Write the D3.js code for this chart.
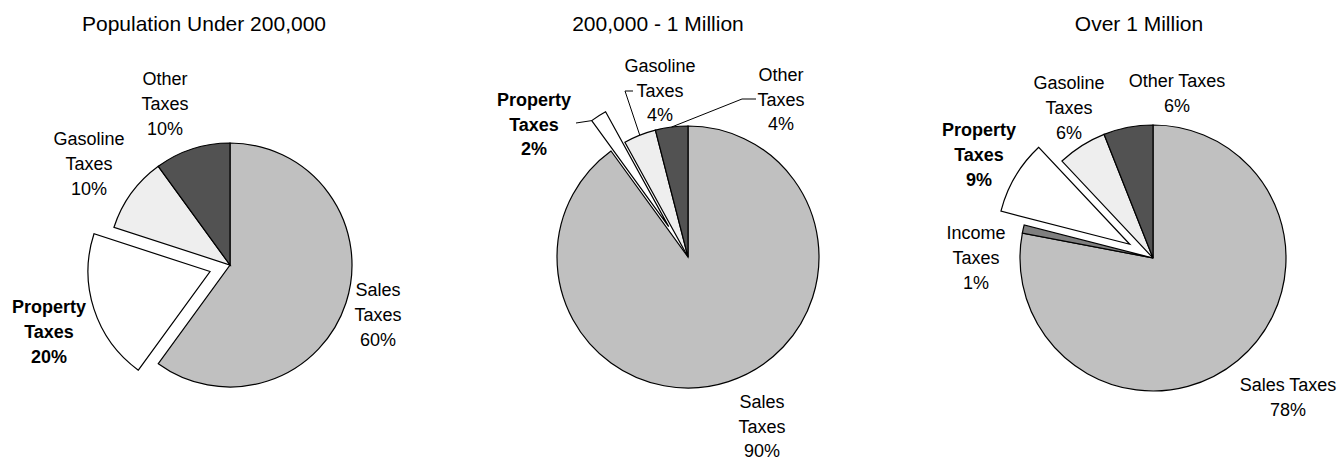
<!DOCTYPE html>
<html><head><meta charset="utf-8">
<script src="https://cdn.jsdelivr.net/npm/d3@7"></script>
<style>
body{margin:0;background:#fff}
svg{display:block}
text{font-family:"Liberation Sans",Arial,sans-serif;fill:#000}
</style>
</head><body><svg id="c" width="1338" height="460"></svg>
<script>
// ---------------- data ----------------
const titles = ["Population Under 200,000", "200,000 - 1 Million", "Over 1 Million"];

const categories1 = ["Sales Taxes", "Property Taxes", "Gasoline Taxes", "Other Taxes"];
const values1 = [60, 20, 10, 10];
const labelLines1 = [["Sales", "Taxes"], ["Property", "Taxes"], ["Gasoline", "Taxes"], ["Other", "Taxes"]];

const categories2 = ["Sales Taxes", "Property Taxes", "Gasoline Taxes", "Other Taxes"];
const values2 = [90, 2, 4, 4];
const labelLines2 = [["Sales", "Taxes"], ["Property", "Taxes"], ["Gasoline", "Taxes"], ["Other", "Taxes"]];

const categories3 = ["Sales Taxes", "Income Taxes", "Property Taxes", "Gasoline Taxes", "Other Taxes"];
const values3 = [78, 1, 9, 6, 6];
const labelLines3 = [["Sales Taxes"], ["Income", "Taxes"], ["Property", "Taxes"], ["Gasoline", "Taxes"], ["Other Taxes"]];

const highlighted = "Property Taxes";

// ---------------- styles / layout ----------------
const colors = {
  "Sales Taxes": "#c0c0c0",
  "Property Taxes": "#ffffff",
  "Gasoline Taxes": "#eeeeee",
  "Other Taxes": "#525252",
  "Income Taxes": "#7f7f7f"
};

const panels = [
  { cx: 230, cy: 265, r: 122, explode: 21, titleX: 204,
    labelPos: { "Sales Taxes": [148, 25], "Property Taxes": [-181, 42], "Gasoline Taxes": [-141, -126], "Other Taxes": [-65, -186] },
    lineH: 25, leaders: [] },
  { cx: 688, cy: 257, r: 131, explode: 36, titleX: 658,
    labelPos: { "Sales Taxes": [74, 145], "Property Taxes": [-154, -157], "Gasoline Taxes": [-28, -191], "Other Taxes": [93, -182] },
    lineH: 24.5,
    leaders: [
      { cat: "Gasoline Taxes", pts: [[-55, -166], [-63, -166]], to: "mid" },
      { cat: "Other Taxes", pts: [[68, -158], [54, -158]], to: "mid" },
      { cat: "Property Taxes", pts: [[-112, -134]], to: "start" }
    ] },
  { cx: 1153, cy: 258, r: 133, explode: 27, titleX: 1139,
    labelPos: { "Sales Taxes": [135, 127], "Income Taxes": [-177, -25], "Property Taxes": [-174, -128], "Gasoline Taxes": [-84, -175], "Other Taxes": [24, -177] },
    lineH: 24.7, leaders: [] }
];

const datasets = [
  { cats: categories1, vals: values1, lines: labelLines1 },
  { cats: categories2, vals: values2, lines: labelLines2 },
  { cats: categories3, vals: values3, lines: labelLines3 }
];

const svg = d3.select("#c");
const pct = d3.format(".0%");

datasets.forEach((ds, i) => {
  const P = panels[i];
  const total = d3.sum(ds.vals);
  const rows = ds.cats.map((c, k) => ({ cat: c, value: ds.vals[k], lines: ds.lines[k] }));
  const pie = d3.pie().sort(null).value(d => d.value).startAngle(0).endAngle(2 * Math.PI);
  const arcs = pie(rows);
  const arc = d3.arc().innerRadius(0).outerRadius(P.r);

  // title
  svg.append("text")
    .attr("x", P.titleX).attr("y", 31)
    .attr("text-anchor", "middle")
    .style("font-size", "21px")
    .text(titles[i]);

  const g = svg.append("g").attr("transform", `translate(${P.cx},${P.cy})`);

  const offsetOf = a => {
    if (a.data.cat !== highlighted) return [0, 0];
    const m = (a.startAngle + a.endAngle) / 2;
    return [P.explode * Math.sin(m), -P.explode * Math.cos(m)];
  };

  g.selectAll("path.slice").data(arcs).join("path")
    .attr("class", "slice")
    .attr("transform", a => { const o = offsetOf(a); return `translate(${o[0]},${o[1]})`; })
    .attr("d", arc)
    .attr("fill", a => colors[a.data.cat])
    .attr("stroke", "#000")
    .attr("stroke-width", 1.2)
    .attr("stroke-linejoin", "miter");

  // leader lines
  P.leaders.forEach(L => {
    const a = arcs.find(x => x.data.cat === L.cat);
    const o = offsetOf(a);
    const ang = L.to === "mid" ? (a.startAngle + a.endAngle) / 2 : a.startAngle;
    const end = [o[0] + P.r * Math.sin(ang), o[1] - P.r * Math.cos(ang)];
    const pts = L.pts.concat([end]);
    g.append("path")
      .attr("d", d3.line()(pts))
      .attr("fill", "none")
      .attr("stroke", "#000")
      .attr("stroke-width", 1);
  });

  // labels
  arcs.forEach(a => {
    const pos = P.labelPos[a.data.cat];
    const bold = a.data.cat === highlighted;
    const lines = a.data.lines.concat([pct(a.data.value / total)]);
    const t = g.append("text")
      .attr("text-anchor", "middle")
      .style("font-size", "18px")
      .style("font-weight", bold ? "bold" : "normal");
    lines.forEach((ln, k) => {
      t.append("tspan")
        .attr("x", pos[0])
        .attr("y", pos[1] + 6.4 + k * P.lineH)
        .text(ln);
    });
  });
});
</script>
</body></html>
